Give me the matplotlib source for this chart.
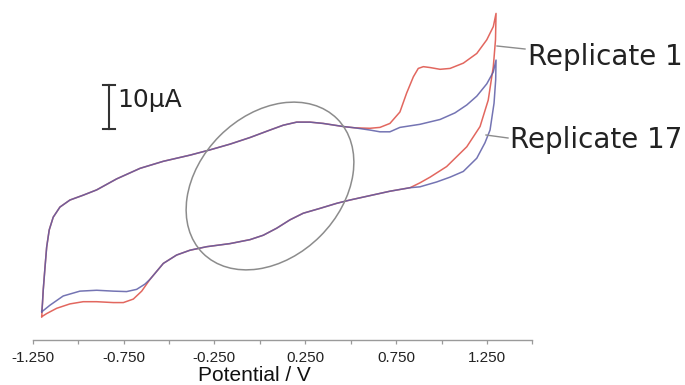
import matplotlib
matplotlib.use("Agg")
import matplotlib.pyplot as plt
from matplotlib.patches import Ellipse
from matplotlib.lines import Line2D

# cyclic voltammograms, potential (V) and current (uA)
# forward sweep -1.2 -> 1.3 V ("up"), reverse sweep 1.3 -> -1.2 V ("down")
rep1_up_E = [-1.200, -1.196, -1.192, -1.182, -1.173, -1.159, -1.137, -1.100, -1.045, -0.972,
             -0.898, -0.788, -0.659, -0.531, -0.384, -0.274, -0.164, -0.054, 0.056, 0.129,
             0.203, 0.276, 0.349, 0.459, 0.524, 0.606, 0.661, 0.716, 0.771, 0.808,
             0.845, 0.872, 0.900, 0.937, 0.992, 1.047, 1.120, 1.194, 1.249, 1.285, 1.300]
rep1_up_I = [-26.5, -23.4, -20.5, -15.2, -10.7, -6.8, -3.9, -1.6, 0.0, 1.1,
             2.3, 4.8, 7.2, 8.8, 10.2, 11.4, 12.7, 14.2, 15.9, 17.0,
             17.7, 17.7, 17.4, 16.7, 16.4, 16.3, 16.5, 17.4, 20.0, 24.3,
             28.0, 29.9, 30.3, 30.1, 29.7, 29.9, 31.1, 33.3, 36.4, 39.4, 42.4]
rep1_down_E = [1.297, 1.285, 1.257, 1.212, 1.139, 1.028, 0.937, 0.881, 0.827, 0.716,
               0.606, 0.496, 0.423, 0.331, 0.239, 0.166, 0.093, 0.019, -0.054, -0.164,
               -0.292, -0.384, -0.458, -0.531, -0.604, -0.650, -0.696, -0.751, -0.806, -0.898,
               -0.972, -1.045, -1.118, -1.173, -1.200]
rep1_down_I = [36.4, 30.3, 22.7, 16.7, 12.1, 7.6, 5.2, 3.9, 2.8, 2.0,
               1.0, 0.0, -0.75, -1.9, -3.0, -4.5, -6.4, -8.0, -9.0, -9.9,
               -10.6, -11.4, -12.5, -14.4, -18.0, -20.7, -22.5, -23.3, -23.3, -23.1,
               -23.1, -23.6, -24.6, -25.8, -26.5]

rep17_up_E = [-1.200, -1.196, -1.192, -1.182, -1.173, -1.159, -1.137, -1.100, -1.045, -0.972,
              -0.898, -0.788, -0.659, -0.531, -0.384, -0.274, -0.164, -0.054, 0.056, 0.129,
              0.203, 0.276, 0.349, 0.459, 0.524, 0.606, 0.661, 0.716, 0.771, 0.881,
              0.992, 1.074, 1.139, 1.194, 1.249, 1.285, 1.300]
rep17_up_I = [-25.4, -23.4, -20.5, -15.2, -10.7, -6.8, -3.9, -1.6, 0.0, 1.1,
              2.3, 4.8, 7.2, 8.8, 10.2, 11.4, 12.7, 14.2, 15.9, 17.0,
              17.7, 17.7, 17.4, 16.7, 16.4, 15.9, 15.5, 15.5, 16.5, 17.2,
              18.3, 19.8, 21.6, 23.6, 26.4, 29.1, 31.8]
rep17_down_E = [1.298, 1.289, 1.267, 1.239, 1.194, 1.120, 1.047, 0.973, 0.881, 0.827,
                0.716, 0.606, 0.496, 0.423, 0.331, 0.239, 0.166, 0.093, 0.019, -0.054,
                -0.164, -0.292, -0.384, -0.458, -0.531, -0.604, -0.632, -0.678, -0.733, -0.806,
                -0.898, -0.990, -1.082, -1.155, -1.200]
rep17_down_I = [27.3, 22.0, 15.9, 13.0, 9.5, 6.5, 5.2, 4.1, 3.0, 2.8,
                2.0, 1.0, 0.0, -0.75, -1.9, -3.0, -4.5, -6.4, -8.0, -9.0,
                -9.9, -10.6, -11.4, -12.5, -14.4, -18.0, -19.1, -20.3, -20.8, -20.7,
                -20.5, -20.7, -21.8, -23.9, -25.4]

labeled_ticks = [-1.25, -0.75, -0.25, 0.25, 0.75, 1.25]
minor_ticks = [-1.0, -0.5, 0.0, 0.5, 1.0, 1.5]
scale_E, scale_I0, scale_len = -0.83, 16.1, 10

RED = "#e2675f"
BLUE = "#5c5ca6"
GRAY = "#8c8c8c"

fig = plt.figure(figsize=(6.85, 3.85), dpi=100)
ax = fig.add_axes([0.0477, 0.1169, 0.7295, 0.870])
ax.set_xlim(-1.25, 1.5)
ax.set_ylim(-31.8, 44.3)

ax.plot(rep1_up_E + rep1_down_E, rep1_up_I + rep1_down_I, color=RED, lw=1.1,
        solid_joinstyle="round")
ax.plot(rep17_up_E + rep17_down_E, rep17_up_I + rep17_down_I, color=BLUE, lw=1.1,
        alpha=0.85, solid_joinstyle="round")

# axis styling: only the bottom spine is shown
for s in ["left", "right", "top"]:
    ax.spines[s].set_visible(False)
ax.spines["bottom"].set_color("#9a9a9a")
ax.spines["bottom"].set_linewidth(1.0)
ax.set_yticks([])
ax.set_xticks(labeled_ticks)
ax.set_xticks(minor_ticks, minor=True)
ax.set_xticklabels(["{:.3f}".format(t) for t in labeled_ticks], family="Liberation Sans",
                   fontsize=11, color="#222222")
ax.tick_params(axis="x", which="both", direction="out", length=3, width=0.9,
               color="#9a9a9a", pad=5)
ax.set_xlabel("Potential / V", family="Liberation Sans", fontsize=15, color="#111111")
ax.xaxis.set_label_coords(0.443, -0.078)

# 10 uA scale bar
cap = 0.033
ax.plot([scale_E, scale_E], [scale_I0, scale_I0 + scale_len], color="#333333", lw=1.5)
ax.plot([scale_E - cap, scale_E + cap], [scale_I0, scale_I0], color="#333333", lw=1.5)
ax.plot([scale_E - cap, scale_E + cap], [scale_I0 + scale_len] * 2, color="#333333", lw=1.5)
ax.text(scale_E + 0.044, 21.1, "10\u03bcA", fontsize=18, color="#222222",
        family="DejaVu Sans", va="baseline", ha="left")

# highlighted region
W, H = 685, 385
ell = Ellipse((2.70, 1.99), 1.90, 1.42, angle=45, transform=fig.dpi_scale_trans,
              fill=False, edgecolor=GRAY, lw=1.1)
fig.add_artist(ell)

# replicate labels with leader lines
fig.add_artist(Line2D([497 / W, 525 / W], [1 - 46 / H, 1 - 49 / H], color=GRAY, lw=1.0))
fig.add_artist(Line2D([486 / W, 508 / W], [1 - 135 / H, 1 - 138 / H], color=GRAY, lw=1.0))
fig.text(528 / W, 1 - 65 / H, "Replicate 1", fontsize=20, color="#222222",
         family="DejaVu Sans", va="baseline", ha="left")
fig.text(510 / W, 1 - 148 / H, "Replicate 17", fontsize=20, color="#222222",
         family="DejaVu Sans", va="baseline", ha="left")

fig.savefig("out.png", dpi=100)
